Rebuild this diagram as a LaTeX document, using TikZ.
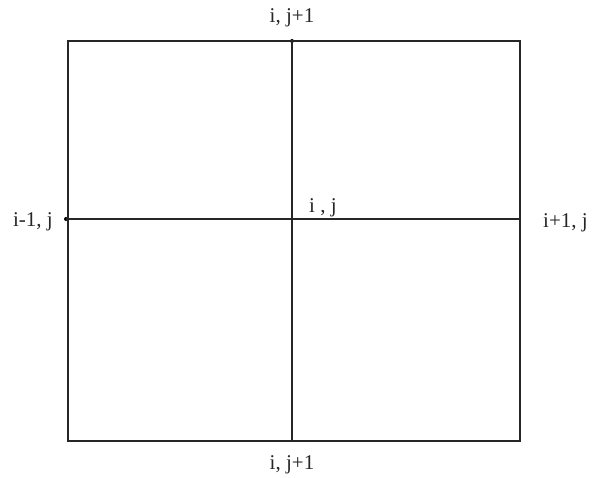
\documentclass[tikz,border=0pt]{standalone}
\usepackage{fontspec}
\setmainfont{Liberation Serif}
\begin{document}
\begin{tikzpicture}[x=1pt,y=-1pt,
  gridline/.style={line width=1.9pt, black!85},
  lbl/.style={font=\fontsize{21}{24}\selectfont, inner sep=0pt, text=black!85},
  pt/.style={circle, fill=black, inner sep=0pt, minimum size=4pt}]
\useasboundingbox (0,0) rectangle (597,478);
\coordinate (tl) at (68,41);
\coordinate (br) at (520,441);
\node[pt] (top) at (292,41) {};
\node[pt] (left) at (66,219) {};
\coordinate (bot) at (292,441);
\coordinate (right) at (520,219);
\coordinate (c) at (292,219);
\draw[gridline] (tl) rectangle (br);
\draw[gridline] (top.center) -- (bot);
\draw[gridline] (left.center) -- (right);
\node[lbl] (ltop) at (292,18) {i, j+1};
\node[lbl] (lbot) at (292,465) {i, j+1};
\node[lbl, anchor=east] (lleft) at (53,222) {i-1, j};
\node[lbl, anchor=west] (lright) at (543,223) {i+1, j};
\node[lbl, anchor=west] (lc) at (309,208) {i , j};
\end{tikzpicture}
\end{document}
